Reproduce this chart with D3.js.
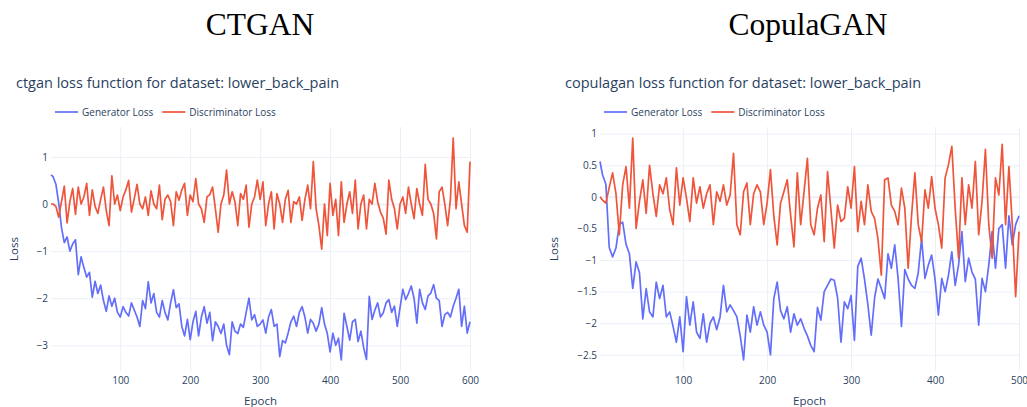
<!DOCTYPE html>
<html>
<head>
<meta charset="utf-8">
<script src="https://cdn.jsdelivr.net/npm/d3@7"></script>
<style>
  body { margin: 0; background: #fff; }
  text { font-family: "Open Sans", verdana, arial, sans-serif; }
</style>
</head>
<body>
<div id="chart"></div>
<script>
// values, one sample every 4 epochs (first sample = epoch 1)
const sampleStep = 4;

const ctganGenerator = [
  0.62, 0.58, 0.42, 0.02, -0.5, -0.82, -0.7, -1.0, -0.85, -0.76,
  -1.5, -1.12, -1.35, -1.55, -1.45, -1.98, -1.64, -1.9, -1.72, -2.05,
  -2.28, -1.95, -2.17, -2.0, -2.3, -2.4, -2.18, -2.3, -2.38, -2.1,
  -2.25, -2.4, -2.6, -2.05, -2.22, -1.65, -2.1, -1.9, -2.3, -2.4,
  -2.05, -2.3, -2.46, -2.1, -1.82, -2.2, -2.12, -2.6, -2.8, -2.45,
  -2.88, -2.5, -2.28, -2.8, -2.4, -2.18, -2.53, -2.3, -2.9, -2.5,
  -2.6, -2.75, -2.55, -3.0, -3.2, -2.5, -2.7, -2.75, -2.55, -2.62,
  -2.3, -2.0, -2.46, -2.35, -2.6, -2.55, -2.46, -2.74, -2.4, -2.24,
  -2.6, -2.55, -3.24, -2.9, -2.95, -2.74, -2.5, -2.38, -2.6, -2.3,
  -2.18, -2.4, -2.74, -2.45, -2.53, -2.7, -2.55, -2.2, -2.55, -2.75,
  -3.14, -2.74, -3.0, -2.85, -3.31, -2.32, -2.6, -2.89, -2.5, -2.45,
  -2.92, -2.7, -3.05, -3.3, -1.96, -2.45, -2.25, -2.1, -2.4, -2.31,
  -2.1, -2.03, -2.3, -2.17, -2.6, -2.2, -1.81, -2.03, -1.9, -1.74,
  -2.0, -2.53, -1.81, -2.1, -2.24, -1.95, -1.89, -1.71, -2.0, -2.05,
  -2.6, -2.35, -2.3, -2.4, -2.17, -2.0, -1.81, -2.6, -2.17, -2.74,
  -2.5
];

const ctganDiscriminator = [
  0.0, 0.0, -0.05, -0.28, 0.05, 0.38, -0.4, 0.05, 0.33, -0.22,
  0.36, 0.0, 0.15, 0.44, -0.24, 0.3, -0.05, -0.2, 0.1, 0.36,
  -0.14, -0.46, 0.6, 0.0, 0.19, -0.14, 0.15, 0.3, 0.5, -0.17,
  0.11, 0.42, 0.0, -0.1, 0.15, -0.24, 0.28, 0.0, -0.1, 0.4,
  -0.33, 0.1, 0.19, 0.05, -0.46, 0.26, 0.08, 0.3, 0.44, -0.24,
  0.19, 0.05, 0.54, 0.0, -0.1, -0.39, 0.15, 0.2, 0.36, -0.1,
  -0.6, 0.0, 0.19, 0.72, 0.0, 0.26, 0.05, -0.46, 0.22, 0.1,
  0.4, -0.49, 0.0, 0.15, 0.51, 0.1, 0.47, -0.46, 0.0, 0.26,
  -0.53, 0.22, 0.0, -0.39, 0.1, 0.29, -0.39, 0.05, 0.0, 0.15,
  -0.35, 0.1, 0.4, -0.1, 0.9, -0.1, -0.46, -0.96, 0.0, -0.67,
  0.44, -0.24, 0.1, -0.67, 0.47, -0.39, 0.0, 0.26, -0.2, 0.51,
  -0.53, 0.0, 0.19, -0.53, 0.1, 0.0, 0.44, 0.05, -0.17, -0.3,
  -0.64, 0.51, 0.1, -0.1, -0.53, 0.0, 0.15, -0.2, 0.36, 0.0,
  -0.31, 0.33, 0.0, -0.24, 0.84, 0.1, 0.0, -0.2, -0.74, 0.26,
  0.36, 0.0, -0.46, 0.1, 1.4, -0.1, 0.47, 0.0, -0.46, -0.6,
  0.9
];

const copulaGenerator = [
  0.56, 0.35, 0.2, -0.8, -0.95, -0.81, -0.44, -0.4, -0.75, -0.9,
  -1.45, -1.03, -1.2, -1.93, -1.45, -1.82, -1.9, -1.35, -1.61, -1.4,
  -1.9, -1.82, -2.05, -2.3, -1.9, -2.45, -1.58, -2.03, -1.66, -2.14,
  -2.24, -1.85, -2.3, -2.0, -1.9, -2.1, -1.9, -1.4, -1.82, -1.71,
  -1.8, -1.9, -2.2, -2.58, -1.87, -2.14, -1.74, -2.03, -1.82, -2.03,
  -2.14, -2.5, -1.61, -1.35, -1.8, -1.93, -1.74, -2.14, -1.85, -2.03,
  -1.93, -2.08, -2.2, -2.35, -2.45, -1.75, -1.95, -1.5, -1.4, -1.3,
  -1.32, -1.6, -2.3, -1.66, -1.77, -1.56, -2.27, -1.1, -0.97, -1.3,
  -1.7, -2.19, -1.6, -1.3, -1.45, -1.61, -0.9, -1.13, -0.76, -1.29,
  -2.05, -1.15, -1.3, -1.4, -1.45, -1.2, -0.66, -1.29, -1.08, -0.92,
  -1.3, -1.87, -1.29, -1.5, -1.24, -0.87, -1.4, -1.08, -0.55, -1.34,
  -0.97, -1.19, -1.3, -2.03, -1.29, -1.5, -1.08, -0.55, -1.13, -0.5,
  -0.44, -1.13, -0.3, -0.76, -0.44, -0.3
];

const copulaDiscriminator = [
  0.0, -0.05, -0.1, 0.15, 0.38, 0.05, -0.6, 0.19, 0.48, -0.18,
  0.93, -0.5, -0.07, 0.27, -0.26, 0.5, 0.05, -0.31, 0.19, 0.05,
  0.3, -0.2, -0.44, 0.46, -0.13, 0.3, -0.02, -0.39, 0.3, -0.1,
  0.16, -0.18, 0.05, 0.19, -0.44, 0.08, -0.07, 0.19, -0.13, 0.03,
  0.69, -0.44, -0.6, 0.08, 0.22, -0.44, 0.05, 0.19, 0.08, -0.44,
  -0.1, 0.43, -0.3, -0.76, -0.1, 0.08, 0.27, -0.29, -0.79, 0.38,
  -0.44, 0.08, 0.61, -0.44, -0.6, -0.18, 0.03, -0.71, 0.4, -0.2,
  -0.81, -0.13, -0.39, -0.34, 0.16, -0.18, 0.48, -0.55, -0.07, -0.44,
  0.19, -0.23, -0.34, -0.66, -1.24, 0.27, 0.3, -0.13, -0.23, -0.44,
  0.14, -0.18, -1.13, -0.3, 0.38, -0.44, -0.71, 0.11, -0.18, 0.32,
  -0.18, -0.44, -0.81, 0.3, 0.51, 0.8, -0.18, -0.97, 0.3, -0.44,
  0.19, -0.18, 0.56, -0.6, -0.07, 0.75, -0.44, -0.97, 0.3, 0.03,
  0.83, -0.44, 0.48, -0.44, -1.58, -0.55
];

const ctganXTicks = [100, 200, 300, 400, 500, 600];
const ctganYTicks = [1, 0, -1, -2, -3];
const copulaXTicks = [100, 200, 300, 400, 500];
const copulaYTicks = [1, 0.5, 0, -0.5, -1, -1.5, -2, -2.5];

const seriesNames = ["Generator Loss", "Discriminator Loss"];
const seriesColors = ["#636efa", "#EF553B"];

const textColor = "#2a3f5f";
const gridColor = "#EBF0F8";

const svg = d3.select("#chart")
  .append("svg")
  .attr("width", 1027)
  .attr("height", 407);

function toPoints(values) {
  return values.map((v, i) => ({ epoch: i === 0 ? 1 : i * sampleStep, value: v }));
}

function drawPanel(cfg) {
  const { left, right, top, bottom } = cfg.plot;
  const series = [toPoints(cfg.generator), toPoints(cfg.discriminator)];

  const x = d3.scaleLinear()
    .domain(d3.extent(series[0], d => d.epoch))
    .range([left, right]);

  // plotly style autorange: data extent plus 5% on each side
  const all = cfg.generator.concat(cfg.discriminator);
  const lo = d3.min(all), hi = d3.max(all);
  const pad = (hi - lo) * 0.05;
  const y = d3.scaleLinear()
    .domain([lo - pad, hi + pad])
    .range([bottom, top]);

  // big heading above the figure
  svg.append("text")
    .attr("x", cfg.headingX)
    .attr("y", 35)
    .attr("text-anchor", "middle")
    .style("font-family", "'Liberation Serif', 'DejaVu Serif', serif")
    .style("font-size", "31.5px")
    .style("fill", "#000")
    .text(cfg.heading);

  // grid
  const xGrid = svg.append("g")
    .attr("transform", `translate(0,${bottom})`)
    .call(d3.axisBottom(x).tickValues(cfg.xTicks).tickSize(-(bottom - top)).tickFormat(""));
  const yGrid = svg.append("g")
    .attr("transform", `translate(${left},0)`)
    .call(d3.axisLeft(y).tickValues(cfg.yTicks).tickSize(-(right - left)).tickFormat(""));
  [xGrid, yGrid].forEach(g => {
    g.select(".domain").remove();
    g.selectAll("line").attr("stroke", gridColor).attr("stroke-width", 1);
  });
  yGrid.selectAll(".tick").filter(d => d === 0).select("line").attr("stroke-width", 2);

  // tick labels
  const fmt = d3.format("~g");
  const xAxis = svg.append("g")
    .attr("transform", `translate(0,${bottom})`)
    .call(d3.axisBottom(x).tickValues(cfg.xTicks).tickSize(0).tickPadding(6).tickFormat(fmt));
  const yAxis = svg.append("g")
    .attr("transform", `translate(${left},0)`)
    .call(d3.axisLeft(y).tickValues(cfg.yTicks).tickSize(0).tickPadding(3).tickFormat(fmt));
  [xAxis, yAxis].forEach(g => {
    g.select(".domain").remove();
    g.selectAll("text")
      .style("font-family", "'Open Sans', verdana, arial, sans-serif")
      .style("font-size", "10px")
      .attr("fill", textColor);
  });

  // lines
  const line = d3.line()
    .x(d => x(d.epoch))
    .y(d => y(d.value));

  series.forEach((s, i) => {
    svg.append("path")
      .datum(s)
      .attr("fill", "none")
      .attr("stroke", seriesColors[i])
      .attr("stroke-width", 1.7)
      .attr("stroke-linejoin", "round")
      .attr("d", line);
  });

  // axis titles
  svg.append("text")
    .attr("x", (left + right) / 2)
    .attr("y", 405)
    .attr("text-anchor", "middle")
    .style("font-size", "11.5px")
    .style("fill", textColor)
    .text("Epoch");

  svg.append("text")
    .attr("transform", `translate(${cfg.lossX},${(top + bottom) / 2}) rotate(-90)`)
    .attr("text-anchor", "middle")
    .attr("dy", "0.35em")
    .style("font-size", "11.5px")
    .style("fill", textColor)
    .text("Loss");

  // chart title
  svg.append("text")
    .attr("x", cfg.titleX)
    .attr("y", 83)
    .attr("dy", "0.35em")
    .style("font-size", "14.5px")
    .style("fill", textColor)
    .text(cfg.title);

  // legend
  const legend = svg.append("g")
    .attr("transform", `translate(${cfg.legendX},112)`);
  let lx = 0;
  seriesNames.forEach((name, i) => {
    legend.append("line")
      .attr("x1", lx).attr("x2", lx + 23)
      .attr("y1", 0).attr("y2", 0)
      .attr("stroke", seriesColors[i])
      .attr("stroke-width", 1.7);
    const t = legend.append("text")
      .attr("x", lx + 27)
      .attr("dy", "0.35em")
      .style("font-size", "10px")
      .style("fill", textColor)
      .text(name);
    lx += 27 + t.node().getComputedTextLength() + 9;
  });
}

drawPanel({
  heading: "CTGAN",
  headingX: 260,
  title: "ctgan loss function for dataset: lower_back_pain",
  titleX: 16,
  legendX: 55,
  lossX: 14,
  plot: { left: 51, right: 470, top: 127, bottom: 371 },
  generator: ctganGenerator,
  discriminator: ctganDiscriminator,
  xTicks: ctganXTicks,
  yTicks: ctganYTicks
});

drawPanel({
  heading: "CopulaGAN",
  headingX: 808,
  title: "copulagan loss function for dataset: lower_back_pain",
  titleX: 565,
  legendX: 604,
  lossX: 554,
  plot: { left: 600, right: 1019, top: 127, bottom: 371 },
  generator: copulaGenerator,
  discriminator: copulaDiscriminator,
  xTicks: copulaXTicks,
  yTicks: copulaYTicks
});
</script>
</body>
</html>
